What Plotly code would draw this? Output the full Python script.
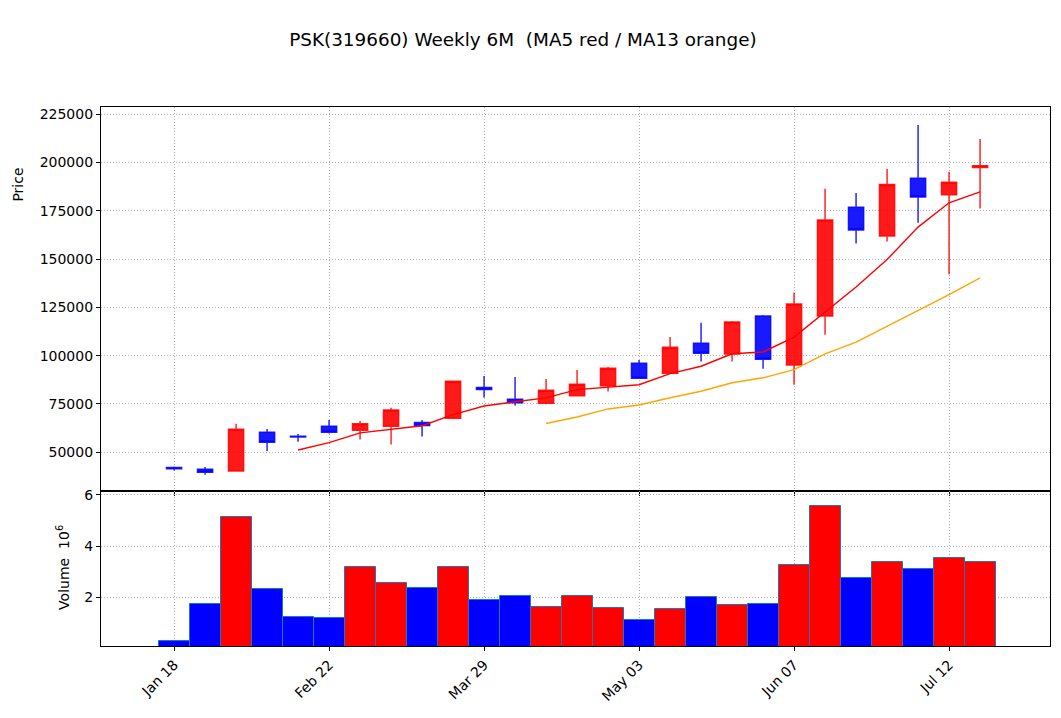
import pandas as pd
import plotly.graph_objects as go
from plotly.subplots import make_subplots

# Weekly OHLCV (week ending Sunday)
dates = pd.date_range("2026-01-18", periods=27, freq="7D")
opens = [42100, 41200, 40300, 60400, 58300, 63500, 61400, 63500, 65400, 67600,
         83500, 77400, 75400, 79200, 84500, 96100, 90900, 106400, 100900, 120600,
         95200, 120600, 176900, 162000, 191900, 183300, 197400]
highs = [42600, 42400, 64700, 62100, 59500, 66700, 66200, 73000, 66700, 86800,
         89500, 89000, 88000, 92600, 94200, 97800, 109700, 117100, 118000, 121100,
         132700, 186400, 184300, 196700, 219500, 195300, 212200]
lows = [40500, 38400, 40000, 50700, 55500, 59700, 56600, 54000, 58100, 67100,
        78300, 74200, 74900, 79200, 81400, 88300, 90600, 97000, 97000, 93300,
        84900, 110900, 158100, 159100, 168900, 142200, 176200]
closes = [41400, 39600, 61900, 55200, 57900, 60400, 64700, 71900, 63800, 86800,
          82500, 75700, 82100, 85200, 93500, 88300, 104400, 101300, 117500, 98200,
          126800, 170300, 165100, 188600, 182200, 189800, 198400]
volumes = [293000, 1740000, 5130000, 2310000, 1220000, 1180000, 3190000, 2550000,
           2350000, 3190000, 1880000, 2040000, 1610000, 2040000, 1580000, 1100000,
           1530000, 2000000, 1690000, 1740000, 3250000, 5570000, 2740000, 3380000,
           3090000, 3540000, 3380000]

df = pd.DataFrame({"open": opens, "high": highs, "low": lows,
                   "close": closes, "volume": volumes}, index=dates)
df["ma5"] = df["close"].rolling(5).mean()
df["ma13"] = df["close"].rolling(13).mean()
vol_colors = ["red" if c >= o else "blue" for o, c in zip(df["open"], df["close"])]

FONT = "DejaVu Sans"
GRID = "#b0b0b0"

fig = make_subplots(rows=2, cols=1, shared_xaxes=True,
                    vertical_spacing=0, row_heights=[0.7124, 0.2876])

fig.add_trace(go.Candlestick(
    x=df.index, open=df["open"], high=df["high"], low=df["low"], close=df["close"],
    increasing=dict(line=dict(color="rgba(255,0,0,0.85)", width=1.5),
                    fillcolor="rgba(255,0,0,0.9)"),
    decreasing=dict(line=dict(color="rgba(0,0,255,0.85)", width=1.5),
                    fillcolor="rgba(0,0,255,0.9)"),
    whiskerwidth=0, showlegend=False
), row=1, col=1)

fig.add_trace(go.Scatter(x=df.index, y=df["ma5"], mode="lines",
                         line=dict(color="red", width=1.4), showlegend=False), row=1, col=1)
fig.add_trace(go.Scatter(x=df.index, y=df["ma13"], mode="lines",
                         line=dict(color="orange", width=1.4), showlegend=False), row=1, col=1)

fig.add_trace(go.Bar(x=df.index, y=df["volume"] / 1e6, marker_color=vol_colors,
                     marker_line=dict(color="#1f77b4", width=1), showlegend=False),
              row=2, col=1)

axis_common = dict(showline=True, linecolor="black", linewidth=1.2, mirror=True,
                   ticks="outside", ticklen=4, tickcolor="black",
                   showgrid=True, gridcolor=GRID, griddash="1px,2px", gridwidth=1,
                   zeroline=False, tickfont=dict(size=14, color="black", family=FONT))

x_range = ["2026-01-01 12:00", "2026-08-03 19:00"]
fig.update_xaxes(**axis_common, range=x_range, tick0="2026-01-18",
                 dtick=35 * 24 * 3600 * 1000, tickformat="%b %d",
                 rangeslider_visible=False)
fig.update_xaxes(showticklabels=False, row=1, col=1)
fig.update_xaxes(tickangle=-45, row=2, col=1)

fig.update_yaxes(**axis_common)
fig.update_yaxes(range=[29950, 228780], tickvals=list(range(50000, 225001, 25000)),
                 tickformat="d", row=1, col=1)
fig.update_yaxes(range=[0.098, 6.156], tickvals=[2, 4, 6], row=2, col=1)

fig.add_annotation(text="Price", xref="paper", yref="paper", x=-0.0875, y=0.856,
                   textangle=-90, showarrow=False, xanchor="center", yanchor="middle",
                   font=dict(size=14, color="black", family=FONT))
fig.add_annotation(text="Volume  10<sup>6</sup>", xref="paper", yref="paper",
                   x=-0.04, y=0.145, textangle=-90, showarrow=False,
                   xanchor="center", yanchor="middle",
                   font=dict(size=14, color="black", family=FONT))

# page body adds 8px margin, so shrink the figure to keep the plot box in place
fig.update_layout(
    width=1053, height=710,
    paper_bgcolor="white", plot_bgcolor="white",
    font=dict(family=FONT, color="black"),
    title=dict(text="PSK(319660) Weekly 6M  (MA5 red / MA13 orange)",
               x=0.489, xanchor="center", y=0.955, yanchor="middle",
               font=dict(size=18.4, color="black", family=FONT)),
    margin=dict(l=93, r=11, t=99, b=72),
    bargap=0, showlegend=False,
)

fig.write_html("out.html")
